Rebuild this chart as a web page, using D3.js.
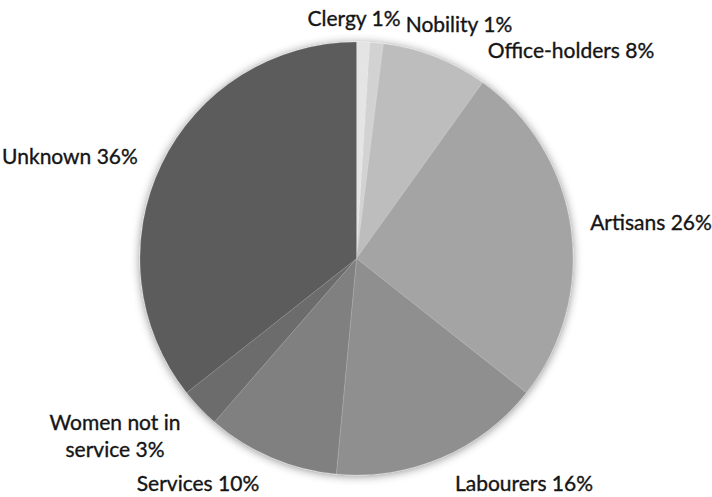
<!DOCTYPE html>
<html>
<head>
<meta charset="utf-8">
<script src="https://cdn.jsdelivr.net/npm/d3@7"></script>
<style>
  html, body { margin: 0; padding: 0; background: #fff; }
  svg { display: block; }
  text { font-family: Lato, "Open Sans", sans-serif; fill: #151515; stroke: #151515; stroke-width: 0.35px; }
</style>
</head>
<body>
<svg id="chart" width="712" height="497"></svg>
<script>
// Occupational groups and their shares (%)
const categories = ["Clergy", "Nobility", "Office-holders", "Artisans", "Labourers",
                    "Services", "Women not in service", "Unknown"];
const shares = [1, 1, 8, 26, 16, 10, 3, 36];
const labelLines = [["Clergy 1%"], ["Nobility 1%"], ["Office-holders 8%"], ["Artisans 26%"],
                    ["Labourers 16%"], ["Services 10%"], ["Women not in", "service 3%"], ["Unknown 36%"]];

// Greyscale fills, lightest for the first slice
const fills = ["#e4e4e4", "#d2d2d2", "#bdbdbd", "#a4a4a4", "#8f8f8f", "#808080", "#6c6c6c", "#5b5b5b"];

// Label placement: centre x and first baseline y, per slice
const labelAt = [[354, 26], [459, 32], [571, 58], [651, 230], [524, 491], [198, 491], [115, 430], [70, 164]];

const width = 712, height = 497;
const cx = 356.5, cy = 258.5, radius = 216.5;

const svg = d3.select("#chart");

const defs = svg.append("defs");
const shadow = defs.append("filter")
  .attr("id", "pieShadow")
  .attr("x", "-20%").attr("y", "-20%")
  .attr("width", "140%").attr("height", "140%");
shadow.append("feDropShadow")
  .attr("dx", 0).attr("dy", 1)
  .attr("stdDeviation", 5)
  .attr("flood-color", "#000")
  .attr("flood-opacity", 0.45);

const data = categories.map((c, i) => ({ name: c, value: shares[i], fill: fills[i], lines: labelLines[i], at: labelAt[i] }));

const pie = d3.pie().value(d => d.value).sort(null);
const arc = d3.arc().innerRadius(0).outerRadius(radius);

const g = svg.append("g")
  .attr("transform", `translate(${cx},${cy})`)
  .attr("filter", "url(#pieShadow)");

g.selectAll("path")
  .data(pie(data))
  .join("path")
  .attr("d", arc)
  .attr("fill", d => d.data.fill)
  .attr("stroke", "#ffffff")
  .attr("stroke-opacity", 0.18)
  .attr("stroke-width", 0.75);

// Slice labels
const labels = svg.append("g").attr("class", "labels");
data.forEach(d => {
  const t = labels.append("text")
    .attr("x", d.at[0])
    .attr("y", d.at[1])
    .attr("text-anchor", "middle")
    .attr("font-size", 21);
  d.lines.forEach((line, j) => {
    t.append("tspan")
      .attr("x", d.at[0])
      .attr("dy", j === 0 ? 0 : 27)
      .text(line);
  });
});
</script>
</body>
</html>
